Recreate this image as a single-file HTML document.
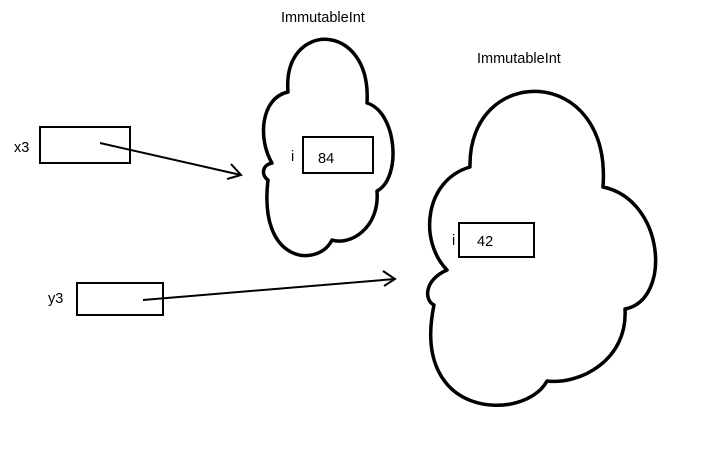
<!DOCTYPE html>
<html><head><style>
html,body{margin:0;padding:0;background:#fff;width:702px;height:458px;overflow:hidden}
svg{display:block}
text{font-family:"Liberation Sans",sans-serif;font-size:14.5px;fill:#000}
</style></head><body>
<svg width="702" height="458" viewBox="0 0 702 458" xmlns="http://www.w3.org/2000/svg">
<g fill="#fff" stroke="#000" stroke-width="3.5" stroke-linejoin="round">
<path d="M288,92 C282,20 372,20 367,103 C397,112 402,178 377,191 C380,228 350,246 332,240 C318,268 258,264 268,180 C261,175 262,165 272,163 C258,140 260,98 288,92 Z"/>
<path d="M470,167 C468,63 612,63 603,187 C665,200 672,300 625,309 C628,360 580,385 547,381 C525,422 410,420 434,305 C424,300 424,280 447,270 C418,240 425,180 470,167 Z"/>
</g>
<g fill="none" stroke="#000" stroke-width="2">
<rect x="40" y="127" width="90" height="36"/>
<rect x="77" y="283" width="86" height="32"/>
<rect x="303" y="137" width="70" height="36"/>
<rect x="459" y="223" width="75" height="34"/>
<line x1="100" y1="143" x2="241" y2="175"/>
<polyline points="231,164 241,175 227,179"/>
<line x1="143" y1="300" x2="395" y2="279"/>
<polyline points="383,271 395,279 384,286"/>
</g>
<text x="14" y="152">x3</text>
<text x="48" y="303">y3</text>
<text x="281" y="22">ImmutableInt</text>
<text x="477" y="63">ImmutableInt</text>
<text x="291" y="161">i</text>
<text x="318" y="163">84</text>
<text x="452" y="245">i</text>
<text x="477" y="246">42</text>
</svg>
</body></html>
